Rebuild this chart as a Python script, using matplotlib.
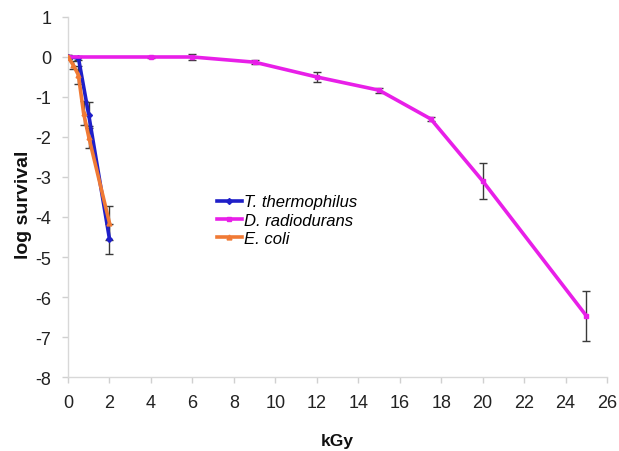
import matplotlib
matplotlib.use("Agg")
import matplotlib.pyplot as plt

plt.rcParams['font.family'] = ['Liberation Sans', 'DejaVu Sans']
plt.rcParams['axes.unicode_minus'] = False

# Data (x in kGy, y = log survival)
tt_x = [0, 0.5, 1.0, 2.0]
tt_y = [0, -0.02, -1.45, -4.55]
tt_err = [0.05, 0.05, 0.33, 0.38]

dr_x = [0, 4, 6, 9, 12, 15, 17.5, 20, 25]
dr_y = [0, 0.0, 0.0, -0.13, -0.5, -0.83, -1.55, -3.1, -6.47]
dr_err = [0.03, 0.03, 0.08, 0.05, 0.12, 0.06, 0.06, 0.46, 0.63]

ec_x = [0, 0.25, 0.5, 0.75, 1.0, 2.0]
ec_y = [0, -0.2, -0.45, -1.4, -2.0, -4.15]
ec_err = [0.05, 0.1, 0.23, 0.3, 0.28, 0.42]

xticks = list(range(0, 27, 2))
yticks = list(range(-8, 2))

fig = plt.figure(figsize=(6.19, 4.52), dpi=100)
ax = fig.add_axes([0.1099, 0.1637, 0.8708, 0.7965])

series = [
    ("T. thermophilus", tt_x, tt_y, tt_err, "#1f1fc8", "D", 3),
    ("D. radiodurans", dr_x, dr_y, dr_err, "#e81fe8", "s", 3),
    ("E. coli", ec_x, ec_y, ec_err, "#f07a35", "^", 3.5),
]
for name, x, y, e, c, m, ms in series:
    ax.errorbar(x, y, yerr=e, fmt='none', ecolor='#3a3a3a', elinewidth=1.0,
                capsize=3, capthick=1.0, zorder=2)
handles = []
for name, x, y, e, c, m, ms in series:
    h, = ax.plot(x, y, color=c, lw=2.6, marker=m, ms=ms, mec=c, mfc=c,
                 label=name, zorder=3)
    handles.append(h)

ax.set_xlim(0, 26)
ax.set_ylim(-8, 1)
ax.set_xticks(xticks)
ax.set_yticks(yticks)

for s in ['top', 'right']:
    ax.spines[s].set_visible(False)
for s in ['left', 'bottom']:
    ax.spines[s].set_color('#d8d8d8')
    ax.spines[s].set_linewidth(1.0)
ax.tick_params(axis='both', colors='#d0d0d0', labelcolor='#222222',
               labelsize=13, length=4, width=1)
ax.tick_params(axis='x', pad=8)
ax.tick_params(axis='y', pad=8)

ax.set_xlabel("kGy", fontsize=12.5, fontweight='bold', color='#111111')
ax.xaxis.set_label_coords(0.5, -0.155)
ax.set_ylabel("log survival", fontsize=14, fontweight='bold', color='#111111')
ax.yaxis.set_label_coords(-0.066, 0.48)

leg = ax.legend(handles=handles, loc='upper left',
                bbox_to_anchor=(0.276, 0.507), frameon=False,
                prop={'style': 'italic', 'size': 12},
                handlelength=1.5, handletextpad=0.15, labelspacing=0.2,
                borderaxespad=0, borderpad=0)

fig.savefig("out.png", dpi=100)
